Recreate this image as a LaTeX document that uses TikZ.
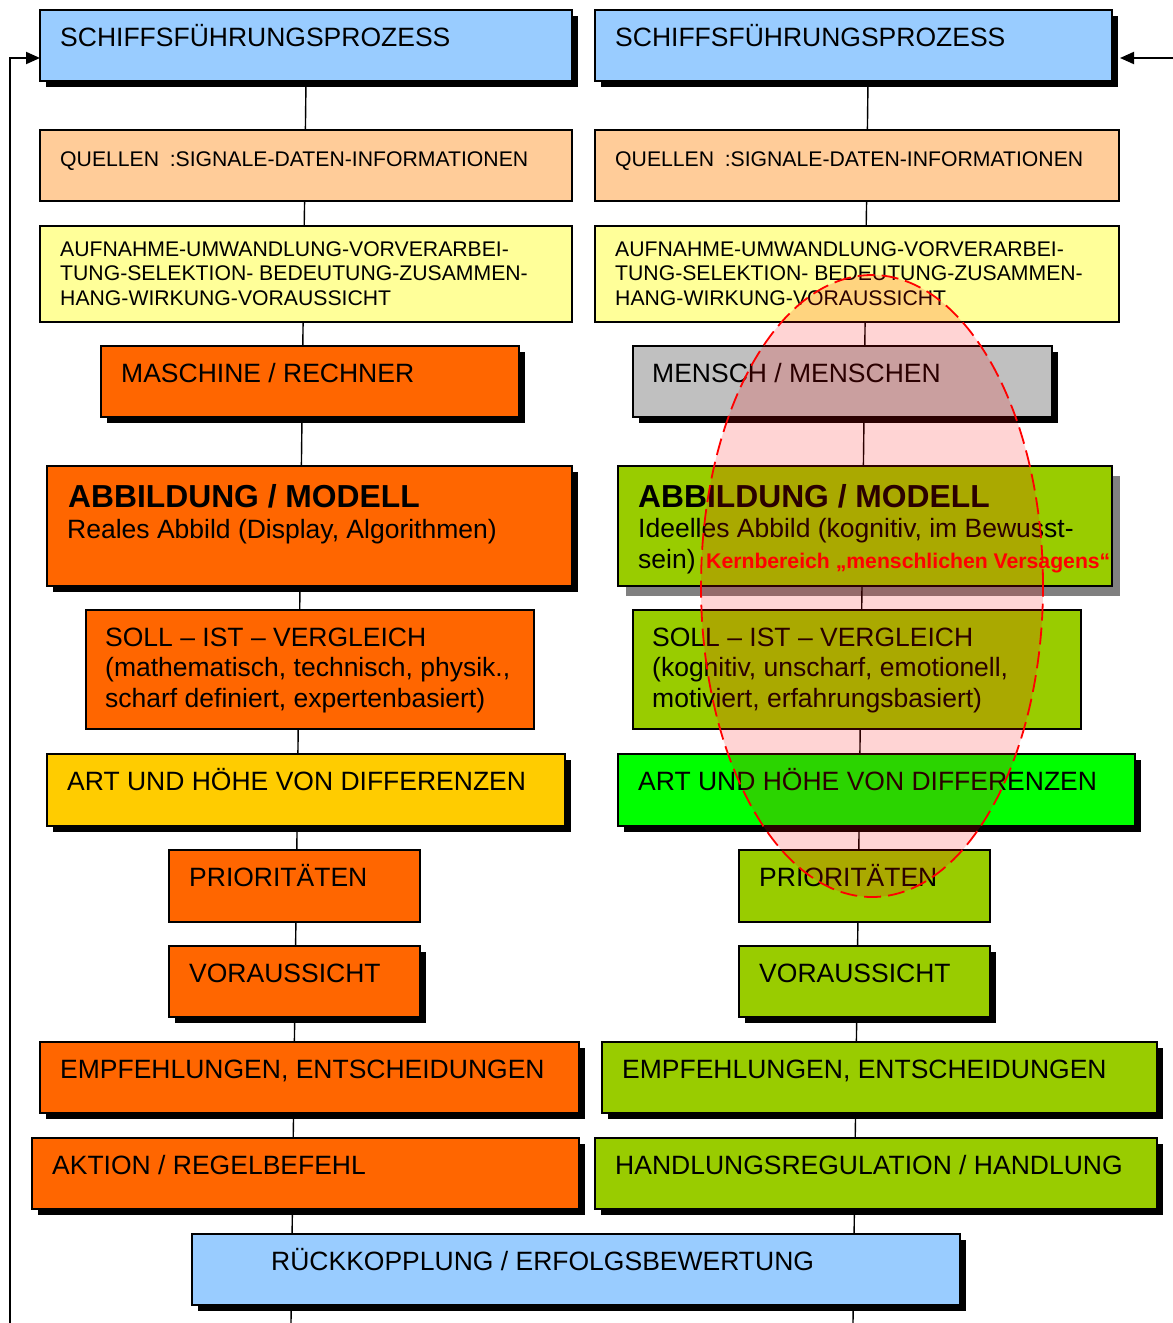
\documentclass[tikz,border=0pt]{standalone}
\usepackage{fontspec}
\setmainfont{Liberation Sans}
\usetikzlibrary{shadows,arrows.meta,shapes.geometric}
\definecolor{cblue}{HTML}{99CCFF}
\definecolor{cpeach}{HTML}{FFCC99}
\definecolor{cyell}{HTML}{FFFF99}
\definecolor{corange}{HTML}{FF6600}
\definecolor{cgold}{HTML}{FFCC00}
\definecolor{cgray}{HTML}{C0C0C0}
\definecolor{cgreen}{HTML}{99CC00}
\definecolor{cbright}{HTML}{00FF00}
\tikzset{
  box/.style={draw=black, line width=1.6pt, rectangle, inner sep=0pt, outer sep=0pt},
  sh/.style={drop shadow={shadow xshift=6pt, shadow yshift=-6pt, fill=black, opacity=1}},
  shgray/.style={drop shadow={shadow xshift=8pt, shadow yshift=-10pt, fill=black!50, opacity=1}},
  nosh/.style={},
  txt/.style={anchor=base west, inner sep=0pt, align=left},
  big/.style={font=\fontsize{26.5}{30.5}\selectfont},
  mid/.style={font=\fontsize{21.2}{24.5}\selectfont},
  bold/.style={font=\fontsize{31.8}{36}\selectfont\bfseries},
  conn/.style={draw=black, line width=1.4pt},
  arr/.style={draw=black, line width=2pt, -{Triangle[length=14pt,width=12pt]}},
  kern/.style={ellipse, draw=red, line width=1.8pt, dash pattern=on 17pt off 7pt,
    fill=red, fill opacity=0.17, draw opacity=1, inner sep=0pt}
}
\newcommand\bx[7]{\node[box, fill=#6, #7, minimum width={#4-#2}, minimum height={#5-#3}] (#1) at ({(#2+#4)/2},{(#3+#5)/2}) {};}
\newcommand\seg[4]{\draw[conn] (#1.south -| #3,0) -- (#2.north -| #4,0);}
\begin{document}
\begin{tikzpicture}[x=1pt,y=-1pt]
\useasboundingbox[fill=white] (0,0) rectangle (1173,1323);
% boxes
\bx{sL}{40}{10}{572}{81}{cblue}{sh}
\bx{qL}{40}{130}{572}{201}{cpeach}{nosh}
\bx{aL}{40}{226}{572}{322}{cyell}{nosh}
\bx{mL}{101}{346}{519}{417}{corange}{sh}
\bx{bL}{47}{466}{572}{586}{corange}{sh}
\bx{vL}{86}{610}{534}{729}{corange}{nosh}
\bx{dL}{47}{754}{565}{826}{cgold}{sh}
\bx{pL}{169}{850}{420}{922}{corange}{nosh}
\bx{fL}{169}{946}{420}{1017}{corange}{sh}
\bx{eL}{40}{1042}{579}{1113}{corange}{sh}
\bx{kL}{32}{1138}{579}{1209}{corange}{sh}
\bx{rk}{192}{1234}{960}{1305}{cblue}{sh}
\bx{sR}{595}{10}{1112}{81}{cblue}{sh}
\bx{qR}{595}{130}{1119}{201}{cpeach}{nosh}
\bx{aR}{595}{226}{1119}{322}{cyell}{nosh}
\bx{mR}{633}{346}{1052}{417}{cgray}{sh}
\bx{bR}{618}{466}{1112}{586}{cgreen}{shgray}
\bx{vR}{633}{610}{1081}{729}{cgreen}{nosh}
\bx{dR}{618}{754}{1135}{826}{cbright}{sh}
\bx{pR}{739}{850}{990}{922}{cgreen}{nosh}
\bx{fR}{739}{946}{990}{1017}{cgreen}{sh}
\bx{eR}{602}{1042}{1157}{1113}{cgreen}{sh}
\bx{kR}{595}{1138}{1157}{1209}{cgreen}{sh}
% vertical connectors
\seg{sL}{qL}{306}{305.4}
\seg{qL}{aL}{304.6}{304.2}
\seg{aL}{mL}{303.1}{302.8}
\seg{mL}{bL}{302}{301.4}
\seg{bL}{vL}{300}{299.7}
\seg{vL}{dL}{298.2}{297.9}
\seg{dL}{pL}{297.1}{296.8}
\seg{pL}{fL}{295.9}{295.6}
\seg{fL}{eL}{294.7}{294.4}
\seg{eL}{kL}{293.6}{293.2}
\seg{kL}{rk}{292.4}{292.1}
\seg{sR}{qR}{868}{867.4}
\seg{qR}{aR}{866.6}{866.2}
\seg{aR}{mR}{865.1}{864.8}
\seg{mR}{bR}{864}{863.4}
\seg{bR}{vR}{862}{861.7}
\seg{vR}{dR}{860.2}{859.9}
\seg{dR}{pR}{859.1}{858.8}
\seg{pR}{fR}{857.9}{857.6}
\seg{fR}{eR}{856.7}{856.4}
\seg{eR}{kR}{855.6}{855.2}
\seg{kR}{rk}{854.4}{854.1}
\coordinate (outL) at (291,1323);
\coordinate (outR) at (853,1323);
\draw[conn] (rk.south -| 291.2,0) -- (outL);
\draw[conn] (rk.south -| 853.2,0) -- (outR);
% feedback arrows
\coordinate (fbL) at (10,1323);
\coordinate (inL) at (40,58);
\coordinate (fbR) at (1173,58);
\coordinate (inR) at (1120,58);
\draw[arr] (fbL) |- (inL);
\draw[arr] (fbR) -- (inR);
% texts (multi-line nodes are placed at the baseline of their last line)
\node[txt,big] (tsL) at (60,46) {SCHIFFSFÜHRUNGSPROZESS};
\node[txt,big] (tsR) at (615,46) {SCHIFFSFÜHRUNGSPROZESS};
\node[txt,mid] (tqL) at (60,166) {QUELLEN\hspace{0.5em}:SIGNALE-DATEN-INFORMATIONEN};
\node[txt,mid] (tqR) at (615,166) {QUELLEN\hspace{0.5em}:SIGNALE-DATEN-INFORMATIONEN};
\node[txt,mid] (taL) at (60,305) {AUFNAHME-UMWANDLUNG-VORVERARBEI-\\TUNG-SELEKTION- BEDEUTUNG-ZUSAMMEN-\\HANG-WIRKUNG-VORAUSSICHT};
\node[txt,mid] (taR) at (615,305) {AUFNAHME-UMWANDLUNG-VORVERARBEI-\\TUNG-SELEKTION- BEDEUTUNG-ZUSAMMEN-\\HANG-WIRKUNG-VORAUSSICHT};
\node[txt,big] (tmL) at (121,382) {MASCHINE / RECHNER};
\node[txt,big] (tmR) at (652,382) {MENSCH / MENSCHEN};
\node[txt,bold] (tbL1) at (68,507) {ABBILDUNG / MODELL};
\node[txt,big] (tbL2) at (67,538) {Reales Abbild (Display, Algorithmen)};
\node[txt,bold] (tbR1) at (638,507) {ABBILDUNG / MODELL};
\node[txt,big] (tbR2) at (638,568) {Ideelles Abbild (kognitiv, im Bewusst-\\sein)};
\node[txt,font=\fontsize{21.2}{24}\selectfont\bfseries,text=red] (tkern) at (706,568) {Kernbereich „menschlichen Versagens“};
\node[txt,big] (tvL) at (105,707) {SOLL – IST – VERGLEICH\\(mathematisch, technisch, physik.,\\scharf definiert, expertenbasiert)};
\node[txt,big] (tvR) at (652,707) {SOLL – IST – VERGLEICH\\(kognitiv, unscharf, emotionell,\\motiviert, erfahrungsbasiert)};
\node[txt,big] (tdL) at (67,790) {ART UND HÖHE VON DIFFERENZEN};
\node[txt,big] (tdR) at (638,790) {ART UND HÖHE VON DIFFERENZEN};
\node[txt,big] (tpL) at (189,886) {PRIORITÄTEN};
\node[txt,big] (tpR) at (759,886) {PRIORITÄTEN};
\node[txt,big] (tfL) at (189,982) {VORAUSSICHT};
\node[txt,big] (tfR) at (759,982) {VORAUSSICHT};
\node[txt,big] (teL) at (60,1078) {EMPFEHLUNGEN, ENTSCHEIDUNGEN};
\node[txt,big] (teR) at (622,1078) {EMPFEHLUNGEN, ENTSCHEIDUNGEN};
\node[txt,big] (tkL) at (52,1174) {AKTION / REGELBEFEHL};
\node[txt,big] (tkR) at (615,1174) {HANDLUNGSREGULATION / HANDLUNG};
\node[txt,big] (trk) at (271,1270) {RÜCKKOPPLUNG / ERFOLGSBEWERTUNG};
% highlighted core area
\node[kern, minimum width=342pt, minimum height=622pt] (kernarea) at (872,586) {};
\end{tikzpicture}
\end{document}
